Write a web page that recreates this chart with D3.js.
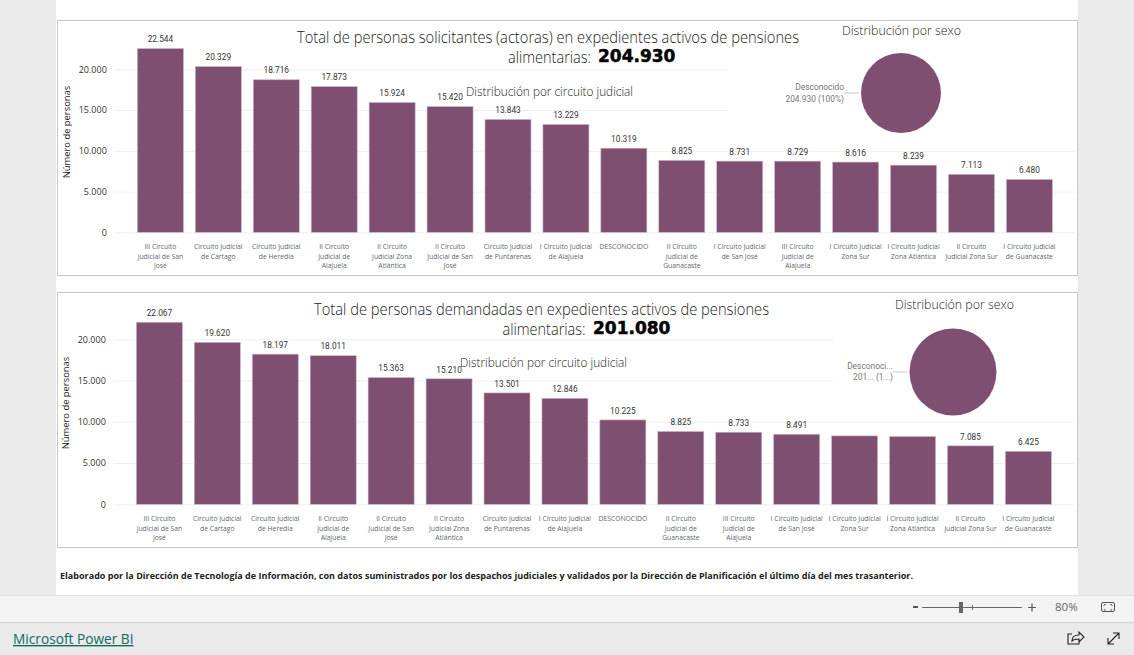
<!DOCTYPE html>
<html><head><meta charset="utf-8">
<script src="https://cdn.jsdelivr.net/npm/d3@7/dist/d3.min.js"></script>
<style>html,body{margin:0;padding:0;background:#eaeaea;overflow:hidden}svg{display:block}text{font-family:"Open Sans",sans-serif}</style>
</head><body><svg id="c" width="1134" height="655"></svg>
<script>
const categoriesTop = ["III Circuito\nJudicial de San\nJosé","Circuito Judicial\nde Cartago","Circuito Judicial\nde Heredia","II Circuito\nJudicial de\nAlajuela","II Circuito\nJudicial Zona\nAtlántica","II Circuito\nJudicial de San\nJosé","Circuito Judicial\nde Puntarenas","I Circuito Judicial\nde Alajuela","DESCONOCIDO","II Circuito\nJudicial de\nGuanacaste","I Circuito Judicial\nde San José","III Circuito\nJudicial de\nAlajuela","I Circuito Judicial\nZona Sur","I Circuito Judicial\nZona Atlántica","II Circuito\nJudicial Zona Sur","I Circuito Judicial\nde Guanacaste"];
const valuesTop = [22544,20329,18716,17873,15924,15420,13843,13229,10319,8825,8731,8729,8616,8239,7113,6480];
const labelledTop = valuesTop.map(()=>true);
const categoriesBottom = ["III Circuito\nJudicial de San\nJosé","Circuito Judicial\nde Cartago","Circuito Judicial\nde Heredia","II Circuito\nJudicial de\nAlajuela","II Circuito\nJudicial de San\nJosé","II Circuito\nJudicial Zona\nAtlántica","Circuito Judicial\nde Puntarenas","I Circuito Judicial\nde Alajuela","DESCONOCIDO","II Circuito\nJudicial de\nGuanacaste","III Circuito\nJudicial de\nAlajuela","I Circuito Judicial\nde San José","I Circuito Judicial\nZona Sur","I Circuito Judicial\nZona Atlántica","II Circuito\nJudicial Zona Sur","I Circuito Judicial\nde Guanacaste"];
const valuesBottom = [22067,19620,18197,18011,15363,15210,13501,12846,10225,8825,8733,8491,8290,8210,7085,6425];
const labelledBottom = [true,true,true,true,true,true,true,true,true,true,true,true,false,false,true,true];
const yTicks = [0,5000,10000,15000,20000];
const fmt = d3.format(",");
const es = v => fmt(v).replace(/,/g,".");
const BAR="#7f4f71";
const svg=d3.select("#c");
svg.append("rect").attr("width",1134).attr("height",655).attr("fill","#eaeaea");
svg.append("rect").attr("x",56).attr("y",0).attr("width",1022).attr("height",596).attr("fill","#fff");

function panel(o){
  const g=svg.append("g");
  g.append("rect").attr("x",57.5).attr("y",o.top+.5).attr("width",1020).attr("height",255).attr("fill","#fff").attr("stroke","#c8c8c8");
  const x=d3.scaleBand().domain(o.cats).range([o.x0-5.97,o.x0+915+5.97]).paddingInner(.206).paddingOuter(.103);
  const y=d3.scaleLinear().domain([0,20000]).range([o.base,o.y20]);
  const ax=g.append("g").attr("transform",`translate(${o.gx},0)`).call(d3.axisLeft(y).tickValues(yTicks).tickFormat(es).tickSize(-961).tickPadding(7.5));
  ax.select(".domain").remove();
  ax.selectAll("line").attr("stroke","#efefef");
  ax.selectAll("text").attr("font-size",9).attr("fill","#333").style("font-family","'Open Sans'");
  g.append("text").attr("transform",`translate(${o.yLabX},${o.yLabY}) rotate(-90)`).attr("text-anchor","middle").attr("font-size",9.4).attr("fill","#222").text("Número de personas");
  g.append("rect").attr("x",o.coverX).attr("y",o.top+1).attr("width",1077-o.coverX).attr("height",o.coverH).attr("fill","#fff");
  g.selectAll(".b").data(o.vals).join("rect").attr("x",(d,i)=>x(o.cats[i])).attr("width",x.bandwidth()).attr("y",d=>y(d)).attr("height",d=>y(0)-y(d)).attr("fill",BAR).attr("stroke","#c9b4c4").attr("stroke-width",.6);
  g.selectAll(".v").data(o.vals).join("text").filter((d,i)=>o.labelled[i]).attr("x",(d)=>x(o.cats[o.vals.indexOf(d)])+x.bandwidth()/2).attr("y",d=>y(d)-6.3).attr("text-anchor","middle").attr("font-size",8.3).attr("fill","#333").style("font-family","Roboto").text(es);
  o.cats.forEach(c=>{
    const lines=c.split("\n");
    const t=g.append("text").attr("text-anchor","middle").attr("font-size",6.8).attr("fill","#5f6670");
    lines.forEach((l,j)=>t.append("tspan").attr("x",x(c)+x.bandwidth()/2).attr("y",o.base+16.7+[0,10,19][j]).text(l));
  });
  const tt=(s,xx,yy,fs,len)=>g.append("text").attr("x",xx).attr("y",yy).attr("text-anchor","middle").attr("font-size",fs).attr("font-weight",300).attr("fill","#222").attr("textLength",len).attr("lengthAdjust","spacingAndGlyphs").text(s);
  tt(o.title,o.titleX,o.top+22.5,16,o.titleLen);
  tt("alimentarias:",o.alimX,o.top+43,16,83);
  g.append("text").attr("x",o.totalX).attr("y",o.top+42).attr("font-size",17).attr("font-weight",700).attr("stroke","#000").attr("stroke-width",.5).attr("fill","#000").style("font-family","'DejaVu Sans'").text(o.total);
  tt("Distribución por circuito judicial",o.subX,o.subY,13,167);
  tt("Distribución por sexo",o.sexX,o.sexY,13,119);
  const arc=d3.arc().innerRadius(0).outerRadius(o.r);
  g.append("g").attr("transform",`translate(${o.px},${o.py})`).selectAll("path").data(d3.pie()([o.pieTotal])).join("path").attr("d",arc).attr("fill",BAR);
  g.append("line").attr("x1",o.px-o.r-17).attr("x2",o.px-o.r-2).attr("y1",o.py).attr("y2",o.py).attr("stroke","#c8c8c8");
  o.pieLabels.forEach((l,i)=>g.append("text").attr("x",o.px-o.r-o.pad).attr("y",o.py+(i?o.dy2:-o.dy1)).attr("text-anchor","end").attr("font-size",8.4).attr("fill","#777").style("font-family","Roboto").text(l));
}
panel({top:20,x0:137.4,gx:114.3,base:232.3,y20:69.3,cats:categoriesTop,vals:valuesTop,labelled:labelledTop,yLabX:70,yLabY:132,coverX:728,coverH:124,
 title:"Total de personas solicitantes (actoras) en expedientes activos de pensiones",titleX:548,titleLen:502,alimX:549.5,totalX:598,total:"204.930",subX:549.5,subY:96,sexX:901.5,sexY:35,px:901,py:93,r:40,pieTotal:204930,pieLabels:["Desconocido","204.930 (100%)"],pad:17,dy1:3,dy2:9});
panel({top:292,x0:136.4,gx:113.3,base:504.3,y20:339.3,cats:categoriesBottom,vals:valuesBottom,labelled:labelledBottom,yLabX:69,yLabY:403,coverX:833,coverH:128,
 title:"Total de personas demandadas en expedientes activos de pensiones",titleX:541.5,titleLen:455,alimX:544,totalX:593,total:"201.080",subX:543.5,subY:367,sexX:954.5,sexY:309,px:953,py:372,r:43.5,pieTotal:201080,pieLabels:["Desconoci...","201... (1...)"],pad:16.5,dy1:3,dy2:8});
svg.append("text").attr("x",60).attr("y",579).attr("font-size",9).attr("font-weight",700).attr("fill","#222").attr("textLength",853).attr("lengthAdjust","spacingAndGlyphs").text("Elaborado por la Dirección de Tecnología de Información, con datos suministrados por los despachos judiciales y validados por la Dirección de Planificación el último día del mes trasanterior.");
svg.append("rect").attr("x",0).attr("y",596).attr("width",1134).attr("height",27).attr("fill","#f3f3f3");
svg.append("line").attr("x1",0).attr("x2",1134).attr("y1",595.5).attr("y2",595.5).attr("stroke","#e1e1e1");
svg.append("line").attr("x1",0).attr("x2",1134).attr("y1",622.5).attr("y2",622.5).attr("stroke","#cfcfcf");
svg.append("rect").attr("x",913).attr("y",606).attr("width",5).attr("height",2).attr("fill","#555");
svg.append("line").attr("x1",922).attr("x2",1022).attr("y1",607.5).attr("y2",607.5).attr("stroke","#666");
svg.append("rect").attr("x",959).attr("y",602).attr("width",4).attr("height",11).attr("fill","#666");
svg.append("line").attr("x1",972.5).attr("x2",972.5).attr("y1",605).attr("y2",610).attr("stroke","#666");
svg.append("path").attr("d","M1028 607.5h8M1032 603.5v8").attr("stroke","#555").attr("stroke-width",1.2);
svg.append("text").attr("x",1055).attr("y",611).attr("font-size",11.5).attr("fill","#666").text("80%");
svg.append("rect").attr("x",1101.5).attr("y",602.5).attr("width",13).attr("height",9).attr("rx",1.5).attr("fill","none").attr("stroke","#555");
svg.append("path").attr("d","M1104 606v-1.5h2M1112 606v-1.5h-2M1104 609v1h2M1112 609v1h-2").attr("fill","none").attr("stroke","#555").attr("stroke-width",.8);
svg.append("text").attr("x",13).attr("y",644).attr("font-size",13.7).attr("fill","#11695e").attr("text-decoration","underline").text("Microsoft Power BI");
svg.append("path").attr("d","M1073 634h-4v10h11v-3M1073 641c0-4 3-6 7-6v-3l5 5-5 5v-3c-3 0-5 0-7 2z").attr("fill","none").attr("stroke","#222").attr("stroke-width",1.1).attr("transform","translate(-1,0) scale(1)");
svg.append("path").attr("d","M1108 644l11-11M1113 633h6v6M1108 638v6h6").attr("fill","none").attr("stroke","#222").attr("stroke-width",1.1);
</script></body></html>
